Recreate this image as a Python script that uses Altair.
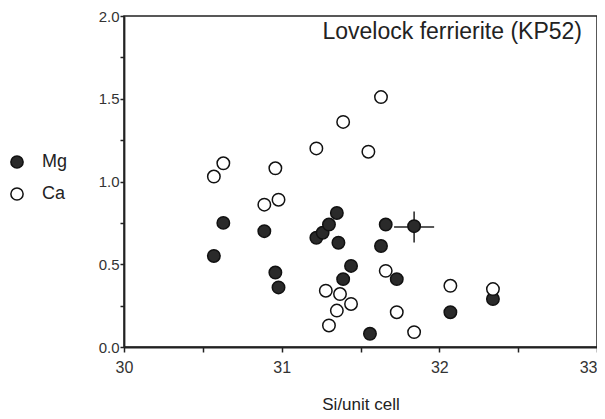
import altair as alt
import pandas as pd

# Mg (filled) and Ca (open) analyses: Si per unit cell vs cations per unit cell
mg_x = [30.57, 30.63, 30.89, 30.96, 30.98, 31.22, 31.26, 31.30, 31.35, 31.36,
        31.44, 31.39, 31.66, 31.63, 31.73, 31.84, 32.07, 32.34, 31.56]
mg_y = [0.55, 0.75, 0.70, 0.45, 0.36, 0.66, 0.69, 0.74, 0.81, 0.63,
        0.49, 0.41, 0.74, 0.61, 0.41, 0.73, 0.21, 0.29, 0.08]

ca_x = [30.57, 30.63, 30.96, 31.22, 31.39, 31.63, 31.55, 30.89, 30.98, 31.28,
        31.37, 31.35, 31.30, 31.44, 31.66, 32.07, 32.34, 31.73, 31.84]
ca_y = [1.03, 1.11, 1.08, 1.20, 1.36, 1.51, 1.18, 0.86, 0.89, 0.34,
        0.32, 0.22, 0.13, 0.26, 0.46, 0.37, 0.35, 0.21, 0.09]

# representative error bar
err_x = [31.84]
err_y = [0.725]
err_dx = [0.127]
err_dy = [0.093]

x_ticks = [30, 30.5, 31, 31.5, 32, 32.5, 33]
y_ticks = [0, 0.25, 0.5, 0.75, 1.0, 1.25, 1.5, 1.75, 2.0]
title_text = ["Lovelock ferrierite (KP52)"]

FONT = "Liberation Sans"

pts = pd.DataFrame({
    "si": mg_x + ca_x,
    "val": mg_y + ca_y,
    "el": ["Mg"] * len(mg_x) + ["Ca"] * len(ca_x),
    "order": [0] * len(mg_x) + [1] * len(ca_x),
})

err = pd.DataFrame({
    "x": err_x, "y": err_y,
    "x_lo": [a - b for a, b in zip(err_x, err_dx)],
    "x_hi": [a + b for a, b in zip(err_x, err_dx)],
    "y_lo": [a - b for a, b in zip(err_y, err_dy)],
    "y_hi": [a + b for a, b in zip(err_y, err_dy)],
})

xscale = alt.Scale(domain=[30, 33], nice=False, zero=False)
yscale = alt.Scale(domain=[0, 2], nice=False)

xaxis = alt.Axis(values=x_ticks, title="Si/unit cell", format=".0f",
                 labelExpr="datum.value % 1 == 0 ? datum.label : ''",
                 labelFlush=False,
                 labelAlign=alt.expr("datum.value >= 33 ? 'right' : 'center'"),
                 labelFontSize=16, titleFontSize=17, labelPadding=7,
                 titlePadding=21, tickSize=5, grid=False)
yaxis = alt.Axis(values=y_ticks, title=None, format=".1f",
                 labelExpr="(datum.value * 2) % 1 == 0 ? datum.label : ''",
                 labelFlush=False,
                 labelFontSize=15, labelPadding=1, tickSize=4, grid=False)

points = alt.Chart(pts).mark_point(
    shape="circle", filled=True, stroke="#111", strokeWidth=1.5,
    size=155, opacity=1
).encode(
    x=alt.X("si:Q", scale=xscale, axis=xaxis),
    y=alt.Y("val:Q", scale=yscale, axis=yaxis),
    fill=alt.Fill("el:N", scale=alt.Scale(domain=["Mg", "Ca"], range=["#2a2a2a", "white"]),
                  legend=alt.Legend(title=None, orient="none", legendX=-116, legendY=137,
                                    labelFontSize=18, symbolSize=150, symbolStrokeWidth=1.5,
                                    symbolStrokeColor="#111", symbolType="circle",
                                    labelOffset=16, rowPadding=12)),
    order="order:Q",
)

hbar = alt.Chart(err).mark_rule(color="#222", strokeWidth=1.5).encode(
    x="x_lo:Q", x2="x_hi:Q", y="y:Q")
vbar = alt.Chart(err).mark_rule(color="#222", strokeWidth=1.5).encode(
    x="x:Q", y="y_lo:Q", y2="y_hi:Q")

title = alt.Chart(pd.DataFrame({"t": title_text})).mark_text(
    align="right", baseline="alphabetic", fontSize=23, font=FONT, color="#222"
).encode(text="t:N", x=alt.value(458), y=alt.value(23))

chart = alt.layer(hbar, vbar, points, title).properties(
    width=473, height=331,
    autosize=alt.AutoSizeParams(type="none"),
    padding={"left": 116, "top": 8, "right": 0, "bottom": 68},
).configure_view(
    stroke="#222", strokeWidth=1.5
).configure_axis(
    labelFont=FONT, titleFont=FONT, labelColor="#333", titleColor="#222",
    domainColor="#222", tickColor="#222", domainWidth=1.8, tickWidth=1.5,
    titleFontWeight="normal"
).configure_legend(
    labelFont=FONT, labelColor="#222"
)

chart.save("out.html", embed_options={"renderer": "svg", "actions": False})
